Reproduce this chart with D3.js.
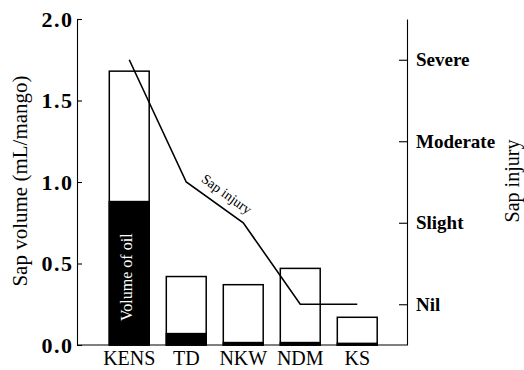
<!DOCTYPE html>
<html>
<head>
<meta charset="utf-8">
<script src="https://cdn.jsdelivr.net/npm/d3@7/dist/d3.min.js"></script>
<style>
  html, body { margin: 0; padding: 0; background: #fff; }
  svg { display: block; }
  text { font-family: "Liberation Serif", "Times New Roman", serif; fill: #000; }
</style>
</head>
<body>
<svg id="chart" width="524" height="370"></svg>
<script>
// Mango cultivars
const categories = ["KENS", "TD", "NKW", "NDM", "KS"];
// Total sap volume (mL/mango)
const sapVolume = [1.68, 0.42, 0.37, 0.47, 0.17];
// Oil fraction of the sap (mL/mango)
const oilVolume = [0.88, 0.07, 0.015, 0.015, 0.01];
// Sap injury rating: 0 = Nil, 1 = Slight, 2 = Moderate, 3 = Severe
const injuryScore = [3, 1.5, 1, 0, 0];
const injuryLevels = ["Nil", "Slight", "Moderate", "Severe"];
const volumeTicks = [0, 0.5, 1.0, 1.5, 2.0];

const serif = "'Liberation Serif', 'Times New Roman', serif";
const svg = d3.select("#chart");

const plotLeft = 77, plotRight = 407, plotTop = 19, plotBottom = 345;

const x = d3.scaleBand()
  .domain(categories)
  .range([100.75, 385.75])
  .paddingInner(0.3)
  .paddingOuter(0.15);

const y = d3.scaleLinear().domain([0, 2]).range([plotBottom, plotTop]);
const yInjury = d3.scaleLinear().domain([-0.5, 3.5]).range([plotBottom, plotTop]);

// Bars: outlined total volume, filled oil portion
const bars = svg.append("g");
categories.forEach((c, i) => {
  bars.append("rect")
    .attr("x", x(c))
    .attr("y", y(sapVolume[i]))
    .attr("width", x.bandwidth())
    .attr("height", y(0) - y(sapVolume[i]))
    .attr("fill", "#fff")
    .attr("stroke", "#000")
    .attr("stroke-width", 1.5);
  bars.append("rect")
    .attr("x", x(c))
    .attr("y", y(oilVolume[i]))
    .attr("width", x.bandwidth())
    .attr("height", y(0) - y(oilVolume[i]))
    .attr("fill", "#000")
    .attr("stroke", "#000")
    .attr("stroke-width", 1.5);
});

// Label inside the oil bar
svg.append("text")
  .attr("transform", `translate(${x("KENS") + x.bandwidth() / 2 + 2.5},${(y(oilVolume[0]) + y(0)) / 2 + 4}) rotate(-90)`)
  .attr("text-anchor", "middle")
  .style("font-size", "16px")
  .style("fill", "#fff")
  .text("Volume of oil");

// Sap injury line
const pts = categories.map((c, i) => [x(c) + x.bandwidth() / 2, yInjury(injuryScore[i])]);
svg.append("path")
  .attr("d", d3.line()(pts))
  .attr("fill", "none")
  .attr("stroke", "#000")
  .attr("stroke-width", 1.6);

// Line label along the TD -> NKW segment
{
  const [p0, p1] = [pts[1], pts[2]];
  const ang = Math.atan2(p1[1] - p0[1], p1[0] - p0[0]);
  const t = 0.57;
  const mx = p0[0] + (p1[0] - p0[0]) * t;
  const my = p0[1] + (p1[1] - p0[1]) * t;
  const off = 9;
  const lx = mx + Math.sin(ang) * off;
  const ly = my - Math.cos(ang) * off;
  svg.append("text")
    .attr("transform", `translate(${lx},${ly}) rotate(${ang * 180 / Math.PI})`)
    .attr("text-anchor", "middle")
    .style("font-size", "14px")
    .text("Sap injury");
}

// Left axis
const yAxis = d3.axisLeft(y)
  .tickValues(volumeTicks)
  .tickFormat(d3.format(".1f"))
  .tickSizeInner(-5)
  .tickSizeOuter(0)
  .tickPadding(3.5);
const gy = svg.append("g").attr("transform", `translate(${plotLeft},0)`).call(yAxis)
  .attr("font-family", serif);
gy.selectAll("text").style("font-size", "22px").style("font-weight", "bold")
  .style("letter-spacing", "1.5px")
  .style("font-family", serif);
gy.selectAll("path, line").attr("stroke", "#000").attr("stroke-width", 1.1);

// Right axis
const yRAxis = d3.axisRight(yInjury)
  .tickValues([0, 1, 2, 3])
  .tickFormat(d => injuryLevels[d])
  .tickSizeInner(-8)
  .tickSizeOuter(0)
  .tickPadding(9);
const gr = svg.append("g").attr("transform", `translate(${plotRight},0)`).call(yRAxis)
  .attr("font-family", serif);
gr.selectAll("text").style("font-size", "19px").style("font-weight", "bold")
  .style("font-family", serif);
gr.selectAll("path, line").attr("stroke", "#000").attr("stroke-width", 1.1);

// Bottom baseline and category labels
svg.append("line")
  .attr("x1", plotLeft).attr("x2", plotRight)
  .attr("y1", y(0)).attr("y2", y(0))
  .attr("stroke", "#000").attr("stroke-width", 1.1);
const xAxis = d3.axisBottom(x).tickSize(0).tickPadding(6);
const gx = svg.append("g").attr("transform", `translate(0,${y(0)})`).call(xAxis)
  .attr("font-family", serif);
gx.select(".domain").remove();
gx.selectAll("text").style("font-size", "20px")
  .style("font-family", serif);

// Axis titles
svg.append("text")
  .attr("transform", `translate(27,181) rotate(-90)`)
  .attr("text-anchor", "middle")
  .style("font-size", "21px")
  .text("Sap volume (mL/mango)");
svg.append("text")
  .attr("transform", `translate(518.5,181) rotate(-90)`)
  .attr("text-anchor", "middle")
  .style("font-size", "20px")
  .text("Sap injury");
</script>
</body>
</html>
